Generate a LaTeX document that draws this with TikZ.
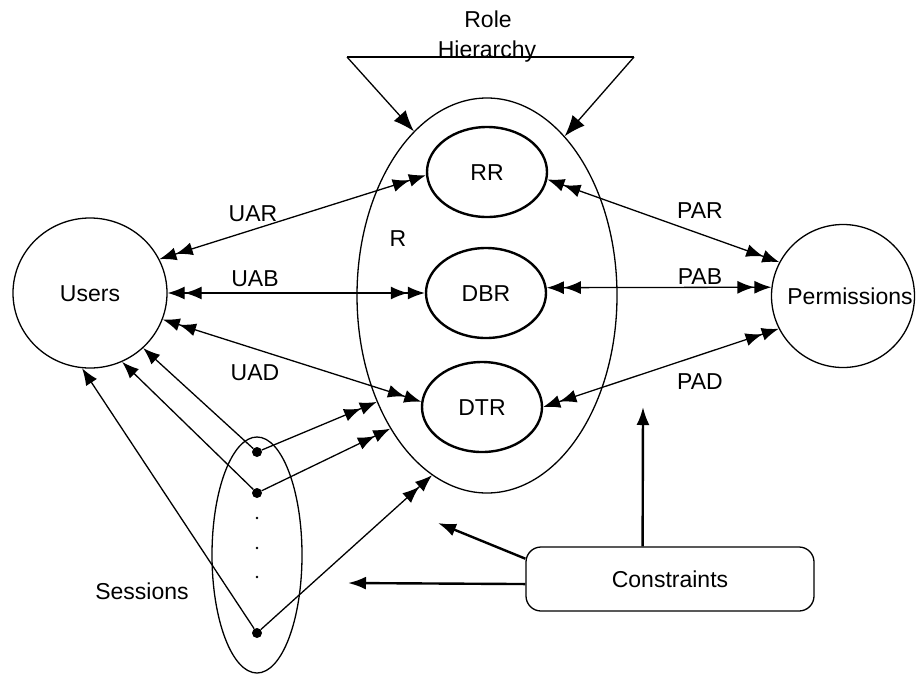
\documentclass[tikz,border=0pt]{standalone}
\usepackage{fontspec}
\setmainfont{Liberation Sans}
\usetikzlibrary{arrows.meta,shapes.geometric}
\tikzset{
  at1/.tip={Latex[length=17pt,width=13pt]},
  at2/.tip={Latex[length=18pt,width=13pt]},
  at3/.tip={Latex[length=21pt,width=16pt]}
}
\begin{document}
\begin{tikzpicture}[x=1pt,y=-1pt,
  font=\fontsize{23}{27}\selectfont,
  lnk/.style={line width=1.3pt},
  bothdbl/.style={arrows={at1[]at1[]-at1[]at1[]}},
  enddbl/.style={arrows={-at1[]at1[]}},
  endone/.style={arrows={-at1[]}},
  bigcirc/.style={ellipse,draw,line width=1.3pt,inner sep=0pt},
  rolebox/.style={ellipse,draw,line width=2.4pt,inner sep=0pt,minimum width=120pt,minimum height=90pt,text height=16.5pt,text depth=0pt},
  lbl/.style={inner sep=0pt,text height=16.5pt,text depth=0pt},
  dot/.style={circle,fill,inner sep=0pt,minimum size=10pt},
  sdot/.style={circle,fill,inner sep=0pt,minimum size=2.6pt},
  cline/.style={line width=2.4pt,arrows={-at2[]}},
  rhtip/.style={arrows={-at3[]}}
]
\useasboundingbox (0,0) rectangle (917,675);

% main nodes
\node[bigcirc,minimum width=154pt,minimum height=150pt,text height=16.5pt,text depth=0pt] (users) at (90,293) {Users};
\node[bigcirc,minimum width=143pt,minimum height=143pt] (perm) at (843,296) {};
\node[lbl] (permtxt) at (850,296) {Permissions};
\node[bigcirc,minimum width=260pt,minimum height=395pt] (R) at (487,295.5) {};
\node[lbl] (Rlbl) at (398,238) {R};
\node[rolebox] (rr) at (487,172) {RR};
\node[rolebox] (dbr) at (486,293) {DBR};
\node[rolebox] (dtr) at (482,407) {DTR};
\node[bigcirc,minimum width=90pt,minimum height=236pt] (sess) at (257,555) {};
\node[lbl] (sesslbl) at (142,591) {Sessions};
\node[draw,rounded corners=15pt,line width=1.3pt,minimum width=288pt,minimum height=64pt,text height=16.5pt,text depth=0pt] (cons) at (670,579) {Constraints};

% role hierarchy
\node[lbl] (rolelbl) at (488,19) {Role};
\node[lbl] (hierlbl) at (487,49) {Hierarchy};
\coordinate (rhL) at (347,57);
\coordinate (rhR) at (634,57);
\draw[lnk] (rhL) -- (rhR);
\draw[lnk,rhtip] (rhL) -- (R.114);
\draw[lnk,rhtip] (rhR) -- (R.64);

% edge labels
\node[lbl] (uar) at (253,213) {UAR};
\node[lbl] (uab) at (255,278) {UAB};
\node[lbl] (uad) at (255,372) {UAD};
\node[lbl] (par) at (700,210) {PAR};
\node[lbl] (pab) at (700,276) {PAB};
\node[lbl] (pad) at (700,381) {PAD};

% user / permission assignments
\draw[lnk,bothdbl] (users.26) -- (rr.183);
\draw[lnk,bothdbl] (users.0) -- (dbr.180);
\draw[lnk,bothdbl] (users.-20) -- (dtr.175);
\draw[lnk,bothdbl] (rr.-7) -- (perm.152);
\draw[lnk,bothdbl] (dbr.5) -- (perm.173);
\draw[lnk,bothdbl] (dtr.0) -- (perm.207);

% sessions
\node[dot] (d1) at (257,452) {};
\node[dot] (d2) at (257,493) {};
\node[dot] (d3) at (257,633) {};
\node[sdot] (s1) at (257,518) {};
\node[sdot] (s2) at (257,548) {};
\node[sdot] (s3) at (257,577) {};
\draw[lnk,endone] (d1) -- (users.-46);
\draw[lnk,endone] (d2) -- (users.-65);
\draw[lnk,endone] (d3) -- (users.-96);
\draw[lnk,enddbl] (d1) -- (R.224);
\draw[lnk,enddbl] (d2) -- (R.234);
\draw[lnk,enddbl] (d3) -- (R.253);

% constraints
\coordinate (c1) at (438,523);
\coordinate (c2) at (348,583);
\coordinate (c3) at (643,407);
\draw[cline] (cons.172) -- (c1);
\draw[cline] (cons.182) -- (c2);
\draw[cline] (cons.130) -- (c3);
\end{tikzpicture}
\end{document}
